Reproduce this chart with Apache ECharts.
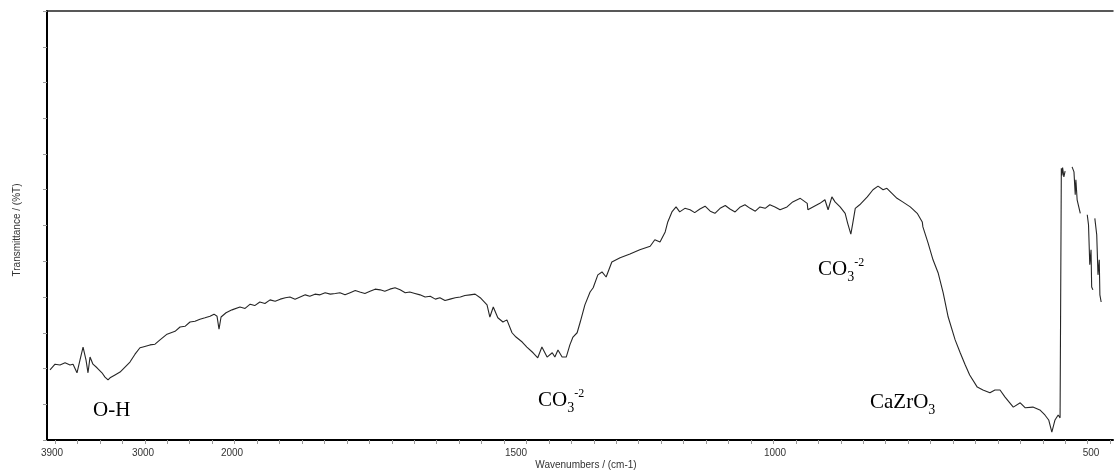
<!DOCTYPE html>
<html>
<head>
<meta charset="utf-8">
<script src="https://cdn.jsdelivr.net/npm/echarts@6/dist/echarts.min.js"></script>
<style>
  html, body { margin: 0; padding: 0; background: #fff; }
  #chart { width: 1114px; height: 474px; }
</style>
</head>
<body>
<div id="chart"></div>
<script>
// FTIR spectrum of the CaZrO3 sample (wavenumber in cm-1, transmittance in %T)
const wavenumbers = [
  3920, 3870, 3821, 3771, 3722, 3692, 3653, 3623, 3593, 3564, 3544, 3524, 3495, 3455, 3406, 3376,
  3346, 3326, 3277, 3227, 3178, 3129, 3079, 3030, 3000,
  2921, 2865, 2809, 2730, 2640, 2584, 2528, 2472, 2416, 2360, 2303, 2247, 2202, 2168, 2146, 2123,
  2067, 2000,
  1986, 1977, 1968, 1960, 1951, 1942, 1933, 1924, 1915, 1906, 1898, 1889, 1880, 1871, 1863, 1854,
  1845, 1836, 1827, 1818, 1810, 1801, 1792, 1783, 1775, 1766, 1757, 1748, 1739, 1731, 1722, 1713,
  1704, 1695, 1687, 1678, 1669, 1660, 1651, 1642, 1634, 1625, 1616, 1607, 1598, 1590, 1581, 1572,
  1563, 1551, 1546, 1540, 1532, 1523, 1516, 1507, 1500,
  1488, 1479, 1467, 1458, 1450, 1440, 1430, 1425, 1419, 1411, 1403, 1396, 1390, 1382, 1376, 1367,
  1357, 1351, 1342, 1334, 1326, 1315, 1299, 1280, 1261, 1241, 1232, 1222, 1212, 1207, 1199, 1191,
  1184, 1174, 1164, 1155, 1145, 1135, 1125, 1116, 1106, 1096, 1087, 1077, 1067, 1058, 1048, 1038,
  1029, 1019, 1010, 1000,
  992, 981, 972, 960, 949, 948, 940, 929, 921, 916, 910, 905, 897, 889, 885, 880, 877, 873, 866,
  854, 845, 837, 829, 823, 815, 807, 798, 786, 775, 767, 766, 758, 750, 742, 734, 726, 715, 707,
  699, 692, 680, 671, 660, 652, 644, 636, 623, 612, 604, 592, 581, 573, 567, 562, 557, 552, 549,
  547, 546, 545, 543, 541, 535, 530, 527, 525, 524, 522, 517, 512,
  506, 504, 502, 500, 499, 497, 495, 494, 491, 489, 487, 486, 484
];
const transmittance = [
  9.8, 10.6, 10.5, 10.8, 10.5, 10.6, 9.4, 11.2, 13.0, 11.2, 9.4, 11.6, 10.6, 10.1, 9.4, 8.8,
  8.4, 8.7, 9.1, 9.5, 10.2, 10.9, 12.0, 12.9, 13.0,
  13.3, 13.4, 14.0, 14.8, 15.2, 15.8, 15.9, 16.5, 16.6, 16.9, 17.1, 17.3, 17.6, 17.3, 15.5, 17.2,
  17.8, 18.2,
  18.6, 18.4, 19.0, 18.8, 19.3, 19.1, 19.6, 19.4, 19.7, 19.9, 20.0, 19.7, 20.0, 20.3, 20.1, 20.4,
  20.3, 20.6, 20.4, 20.5, 20.6, 20.3, 20.6, 20.9, 20.7, 20.5, 20.8, 21.1, 21.0, 20.8, 21.1, 21.3,
  21.0, 20.6, 20.7, 20.5, 20.3, 20.0, 20.1, 19.7, 19.9, 19.5, 19.7, 19.9, 20.0, 20.2, 20.3, 20.4,
  19.9, 18.9, 17.2, 18.6, 17.1, 16.5, 16.8, 15.0, 14.4,
  13.7, 13.0, 12.2, 11.5, 13.0, 11.6, 12.2, 11.6, 12.6, 11.6, 11.6, 13.3, 14.4, 15.0, 16.5, 18.9,
  20.7, 21.3, 23.1, 23.5, 22.8, 24.9, 25.5, 26.0, 26.6, 27.1, 28.0, 27.7, 29.1, 30.5, 31.9, 32.6,
  31.9, 32.4, 32.2, 31.8, 32.3, 32.7, 32.0, 31.7, 32.4, 32.8, 32.3, 31.9, 32.6, 32.9, 32.4, 32.0,
  32.6, 32.4, 32.9, 32.6,
  32.2, 32.6, 33.3, 33.8, 33.1, 32.2, 32.6, 33.1, 33.6, 32.2, 34.0, 33.3, 32.6, 31.7, 30.3, 28.8, 30.3, 32.4, 32.9,
  34.0, 35.0, 35.5, 35.0, 35.2, 34.5, 33.8, 33.3, 32.6, 31.7, 30.5, 29.8, 27.6, 25.2, 23.4, 20.6, 17.2, 14.0, 12.2,
  10.5, 9.1, 7.4, 7.0, 6.6, 7.0, 7.0, 6.0, 4.6, 5.2, 4.5, 4.6, 4.2, 3.5, 2.8, 1.1, 2.8, 3.5, 3.1,
  38.0, 37.0, 38.1, 36.8, 37.6, null, 38.2, 37.5, 34.3, 36.4, 33.6, 31.7, null,
  31.5, 30.1, 24.5, 26.6, 21.4, 21.0, null, 31.0, 28.7, 23.1, 25.2, 20.3, 19.3
];
const tickLabels = [3900, 3000, 2000, 1500, 1000, 500];
// The wavenumber axis is drawn in bands, each band with its own linear scale
const bandEdges = [3920, 3000, 2000, 1500, 1000, 470];

const annotations = ['O-H', '{m|CO}{s|3}{p|-2}', '{m|CO}{s|3}{p|-2}', '{m|CaZrO}{s|3}'];

// ---- layout ----
const W = 1114, H = 474;
const frame = { left: 47, right: 1113, top: 11, bottom: 440 };
const bandPx = [50, 143, 232, 516, 775, 1110];
const annotationPos = [[93, 398], [538, 388], [818, 257], [870, 390]];
const LINE = '#262626';
const SANS = '"Liberation Sans", Arial, sans-serif';
const SERIF = '"Liberation Serif", "Times New Roman", serif';

const grids = [{ left: frame.left, right: W - frame.right, top: frame.top, bottom: H - frame.bottom }];
const xAxes = [
  { // frame bottom axis: line and evenly spaced ticks
    type: 'value', gridIndex: 0, position: 'bottom', min: 0, max: frame.right - frame.left,
    axisLine: { show: true, onZero: false, lineStyle: { color: '#000', width: 2 } },
    axisTick: { show: true, length: 4, lineStyle: { color: '#9a9a9a', width: 1 },
      customValues: Array.from({ length: 48 }, (_, k) => 8 + 22.45 * k) },
    axisLabel: { show: false }, splitLine: { show: false }
  },
  { // frame top line
    type: 'value', gridIndex: 0, position: 'top', min: 0, max: 1,
    axisLine: { show: true, onZero: false, lineStyle: { color: '#222', width: 1.5 } },
    axisTick: { show: false }, axisLabel: { show: false }, splitLine: { show: false }
  }
];
const yAxes = [{
  type: 'value', gridIndex: 0, min: 0, max: 12, interval: 1,
  axisLine: { show: true, lineStyle: { color: '#000', width: 2 } },
  axisTick: { show: true, length: 4, lineStyle: { color: '#9a9a9a', width: 1 } },
  axisLabel: { show: false }, splitLine: { show: false }
}];
const series = [];

const used = new Set();
for (let b = 0; b < bandEdges.length - 1; b++) {
  const hi = bandEdges[b], lo = bandEdges[b + 1];
  grids.push({ left: bandPx[b], right: W - bandPx[b + 1], top: frame.top, bottom: H - frame.bottom });
  const labels = tickLabels.filter(v => v <= hi && v >= lo && !used.has(v));
  labels.forEach(v => used.add(v));
  xAxes.push({
    type: 'value', gridIndex: b + 1, inverse: true, min: lo, max: hi,
    axisLine: { show: false }, axisTick: { show: false }, splitLine: { show: false },
    axisLabel: {
      show: labels.length > 0, customValues: labels, showMinLabel: true, showMaxLabel: true,
      formatter: v => String(v),
      margin: 8, color: '#333', fontSize: 10, fontFamily: SANS
    }
  });
  yAxes.push({ type: 'value', gridIndex: b + 1, min: 0, max: 60, show: false });
  const data = [];
  wavenumbers.forEach((wn, i) => {
    if (wn <= hi && wn >= lo) data.push([wn, transmittance[i]]);
  });
  series.push({
    type: 'line', xAxisIndex: b + 2, yAxisIndex: b + 1, data,
    showSymbol: false, connectNulls: false, silent: true,
    lineStyle: { color: LINE, width: 1.1 }
  });
}

const rich = {
  m: { fontSize: 21, fontFamily: SERIF, color: '#000', lineHeight: 24 },
  s: { fontSize: 14, fontFamily: SERIF, color: '#000', lineHeight: 14, verticalAlign: 'bottom', padding: [0, 0, -3, 0] },
  p: { fontSize: 12, fontFamily: SERIF, color: '#000', lineHeight: 12, verticalAlign: 'top' }
};

const graphic = [
  { type: 'text', x: 586, y: 465, silent: true,
    style: { text: 'Wavenumbers / (cm-1)', align: 'center', verticalAlign: 'middle',
      fontSize: 10, fontFamily: SANS, fill: '#333' } },
  { type: 'text', x: 17, y: 230, rotation: Math.PI / 2, silent: true,
    style: { text: 'Transmittance / (%T)', align: 'center', verticalAlign: 'middle',
      fontSize: 10, fontFamily: SANS, fill: '#333' } }
];
annotations.forEach((t, i) => {
  const isRich = t.indexOf('{') === 0;
  graphic.push({
    type: 'text', x: annotationPos[i][0], y: annotationPos[i][1], silent: true,
    style: isRich
      ? { text: t, rich, fill: '#000' }
      : { text: t, fontSize: 21, fontFamily: SERIF, fill: '#000', lineHeight: 24 }
  });
});

const chart = echarts.init(document.getElementById('chart'), null, { renderer: 'canvas' });
chart.setOption({
  backgroundColor: '#fff',
  animation: false,
  grid: grids,
  xAxis: xAxes,
  yAxis: yAxes,
  series,
  graphic
});
</script>
</body>
</html>
